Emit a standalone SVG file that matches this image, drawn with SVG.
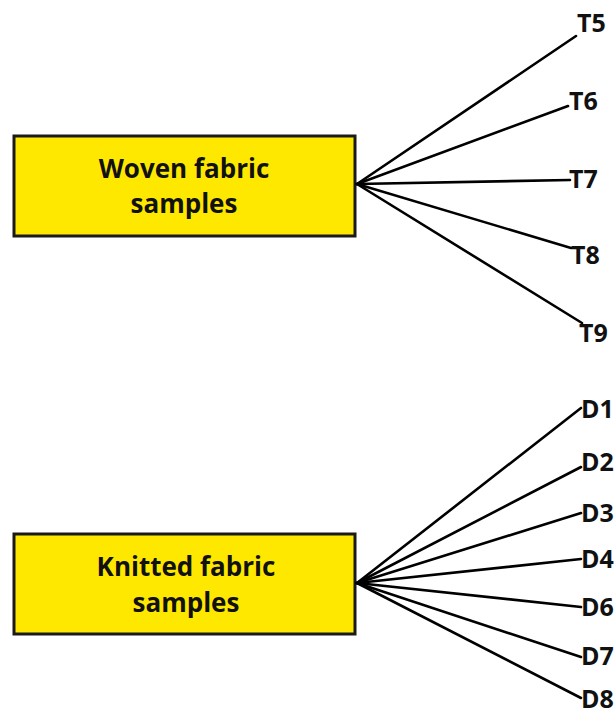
<svg xmlns="http://www.w3.org/2000/svg" width="615" height="716" viewBox="0 0 615 716">
<style>
.box{fill:#ffe800;stroke:#1a1a1a;stroke-width:3}
.bt{font-family:"Open Sans","Liberation Sans",sans-serif;font-weight:700;font-size:26px;fill:#111;text-anchor:middle}
.lb{font-family:"Open Sans","Liberation Sans",sans-serif;font-weight:700;font-size:25px;fill:#111}
.c{stroke:#000;stroke-width:2.6;fill:none;stroke-linecap:round}
</style>
<rect width="615" height="716" fill="#fff"/>
<g id="woven">
<rect class="box" x="14" y="136" width="341" height="100"/>
<text class="bt" x="184" y="178">Woven fabric</text>
<text class="bt" x="184" y="213">samples</text>
</g>
<g id="knitted">
<rect class="box" x="14" y="534" width="341" height="100"/>
<text class="bt" x="186" y="576">Knitted fabric</text>
<text class="bt" x="186" y="612">samples</text>
</g>
<g id="labels">
<text class="lb" x="577" y="32">T5</text>
<text class="lb" x="569" y="110">T6</text>
<text class="lb" x="569" y="188">T7</text>
<text class="lb" x="571" y="264">T8</text>
<text class="lb" x="579" y="342">T9</text>
<text class="lb" x="581" y="418">D1</text>
<text class="lb" x="581" y="471">D2</text>
<text class="lb" x="581" y="522">D3</text>
<text class="lb" x="581" y="568">D4</text>
<text class="lb" x="581" y="616">D6</text>
<text class="lb" x="581" y="665">D7</text>
<text class="lb" x="581" y="708">D8</text>
</g>
<g id="connectors">
<line class="c" x1="357" y1="184" x2="576" y2="36"/>
<line class="c" x1="357" y1="184" x2="568" y2="106"/>
<line class="c" x1="357" y1="184" x2="570" y2="180"/>
<line class="c" x1="357" y1="184" x2="571" y2="248"/>
<line class="c" x1="357" y1="184" x2="582" y2="323"/>
<line class="c" x1="357" y1="583" x2="581" y2="408"/>
<line class="c" x1="357" y1="583" x2="581" y2="467"/>
<line class="c" x1="357" y1="583" x2="581" y2="513"/>
<line class="c" x1="357" y1="583" x2="581" y2="559"/>
<line class="c" x1="357" y1="583" x2="581" y2="607"/>
<line class="c" x1="357" y1="583" x2="581" y2="657"/>
<line class="c" x1="357" y1="583" x2="581" y2="698"/>
</g>
</svg>
